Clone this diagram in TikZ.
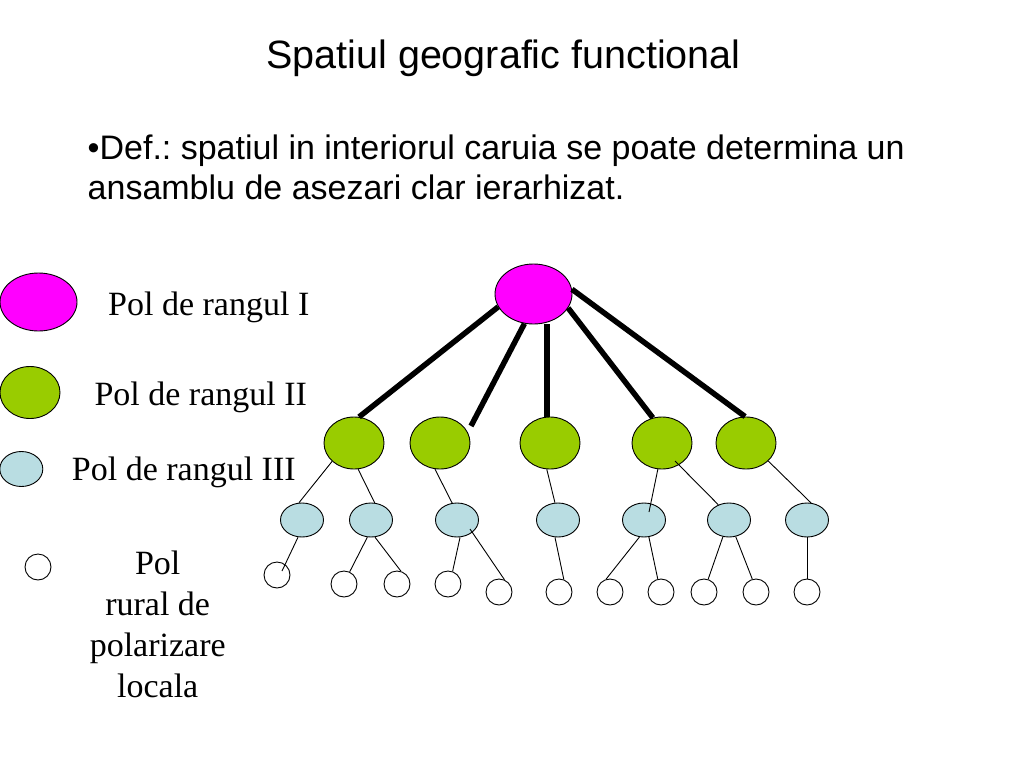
\documentclass[tikz,border=0pt]{standalone}
\usepackage{fontspec}
\setmainfont{Liberation Serif}
\newfontfamily\arialf{Liberation Sans}
\usetikzlibrary{shapes.geometric,calc}
\definecolor{magentaP}{RGB}{255,0,255}
\definecolor{greenP}{RGB}{153,204,0}
\definecolor{blueP}{RGB}{185,221,226}
\frenchspacing
\begin{document}
\begin{tikzpicture}[x=1pt,y=-1pt,
  pol/.style={ellipse, draw=black, line width=0.9pt, inner sep=0pt},
  p1/.style={pol, fill=magentaP, minimum width=77pt, minimum height=60pt},
  p2/.style={pol, fill=greenP, minimum width=60pt, minimum height=52pt},
  p3/.style={pol, fill=blueP, minimum width=43pt, minimum height=34pt},
  p4/.style={circle, draw=black, line width=0.9pt, fill=white, minimum size=26pt, inner sep=0pt},
  bigline/.style={line width=5.5pt},
  smallline/.style={line width=0.9pt},
  leg/.style={font=\fontsize{34}{41}\selectfont, inner sep=0pt, anchor=base west},
  body/.style={font=\arialf\fontsize{34}{41}\selectfont, inner sep=0pt, anchor=base west},
]
\useasboundingbox (0,0) rectangle (1024,768);

% title and definition
\node[font=\arialf\fontsize{39.5}{47}\selectfont, inner sep=0pt, anchor=base] (title) at (503.5,68.5) {Spatiul geografic functional};
\node[body] (def1) at (87.5,159.5) {\frenchspacing\textbullet Def.: spatiul in interiorul caruia se poate determina un};
\node[body] (def2) at (87.5,199) {ansamblu de asezari clar ierarhizat.};

% legend
\node[p1, minimum height=58pt] (l1) at (38.5,302) {};
\node[p2] (l2) at (30,392.5) {};
\node[p3, minimum height=35pt] (l3) at (21.3,469) {};
\node[p4] (l4) at (38,567) {};
\node[leg] (t1) at (108,315) {Pol de rangul I};
\node[leg] (t2) at (94.3,405) {Pol de rangul II};
\node[leg] (t3) at (71.7,480.7) {Pol de rangul III};
\node[font=\fontsize{34}{41}\selectfont, inner sep=0pt, align=center, anchor=north] (t4) at (157.7,550.8) {Pol\\rural de\\polarizare\\locala};

% tree nodes
\node[p1] (top) at (533.5,294) {};
\node[p2] (g1) at (354,443) {};
\node[p2] (g2) at (440,443) {};
\node[p2] (g3) at (550,443) {};
\node[p2] (g4) at (662,443) {};
\node[p2] (g5) at (746,443) {};

\node[p3] (b1) at (302,520) {};
\node[p3] (b2) at (371,520) {};
\node[p3] (b3) at (457,520) {};
\node[p3] (b4) at (558,520) {};
\node[p3] (b5) at (644,520) {};
\node[p3] (b6) at (729,520) {};
\node[p3] (b7) at (807,520) {};

\node[p4] (w1) at (277,575) {};
\node[p4] (w2) at (344,584) {};
\node[p4] (w3) at (397,584) {};
\node[p4] (w4) at (448,584) {};
\node[p4] (w5) at (499,592) {};
\node[p4] (w6) at (559,592) {};
\node[p4] (w7) at (610,592) {};
\node[p4] (w8) at (661,592) {};
\node[p4] (w9) at (704,592) {};
\node[p4] (w10) at (756,592) {};
\node[p4] (w11) at (807,592) {};

% thick links
\draw[bigline] (top.200) -- (g1.79);
\draw[bigline] (top.253) -- ($(g2.center)+(31,-17)$);
\draw[bigline] ($(g3.north |- top.south)+(-3,0)$) -- ($(g3.north)+(-3,0)$);
\draw[bigline] (top.338) -- (g4.110);
\draw[bigline] (top.7) -- (g5.92);

% thin links level II -> III
\draw[smallline] (g1.220) -- (b1.100);
\draw[smallline] (g1.279) -- (b2.78);
\draw[smallline] (g2.259) -- (b3.106);
\draw[smallline] (g3.263) -- (b4.100);
\draw[smallline] (g4.261) -- ($(b5.center)+(5,-8)$);
\draw[smallline] ($(g4.center)+(13,18)$) -- (b6.125);
\draw[smallline] (g5.321) -- (b7.77);

% thin links level III -> rural
\draw[smallline] (b1.257) -- ($(w1.center)+(5,-4)$);
\draw[smallline] (b2.258) -- (w2.65);
\draw[smallline] (b2.283) -- (w3.73);
\draw[smallline] (b3.280) -- (w4.70);
\draw[smallline] ($(b3.center)+(13,9)$) -- (w5.66);
\draw[smallline] (b4.260) -- (w6.69);
\draw[smallline] (b5.255) -- (w7.107);
\draw[smallline] (b5.286) -- (w8.104);
\draw[smallline] (b6.250) -- (w9.72);
\draw[smallline] (b6.292) -- (w10.106);
\draw[smallline] (b7.south) -- (w11.north);
\end{tikzpicture}
\end{document}
